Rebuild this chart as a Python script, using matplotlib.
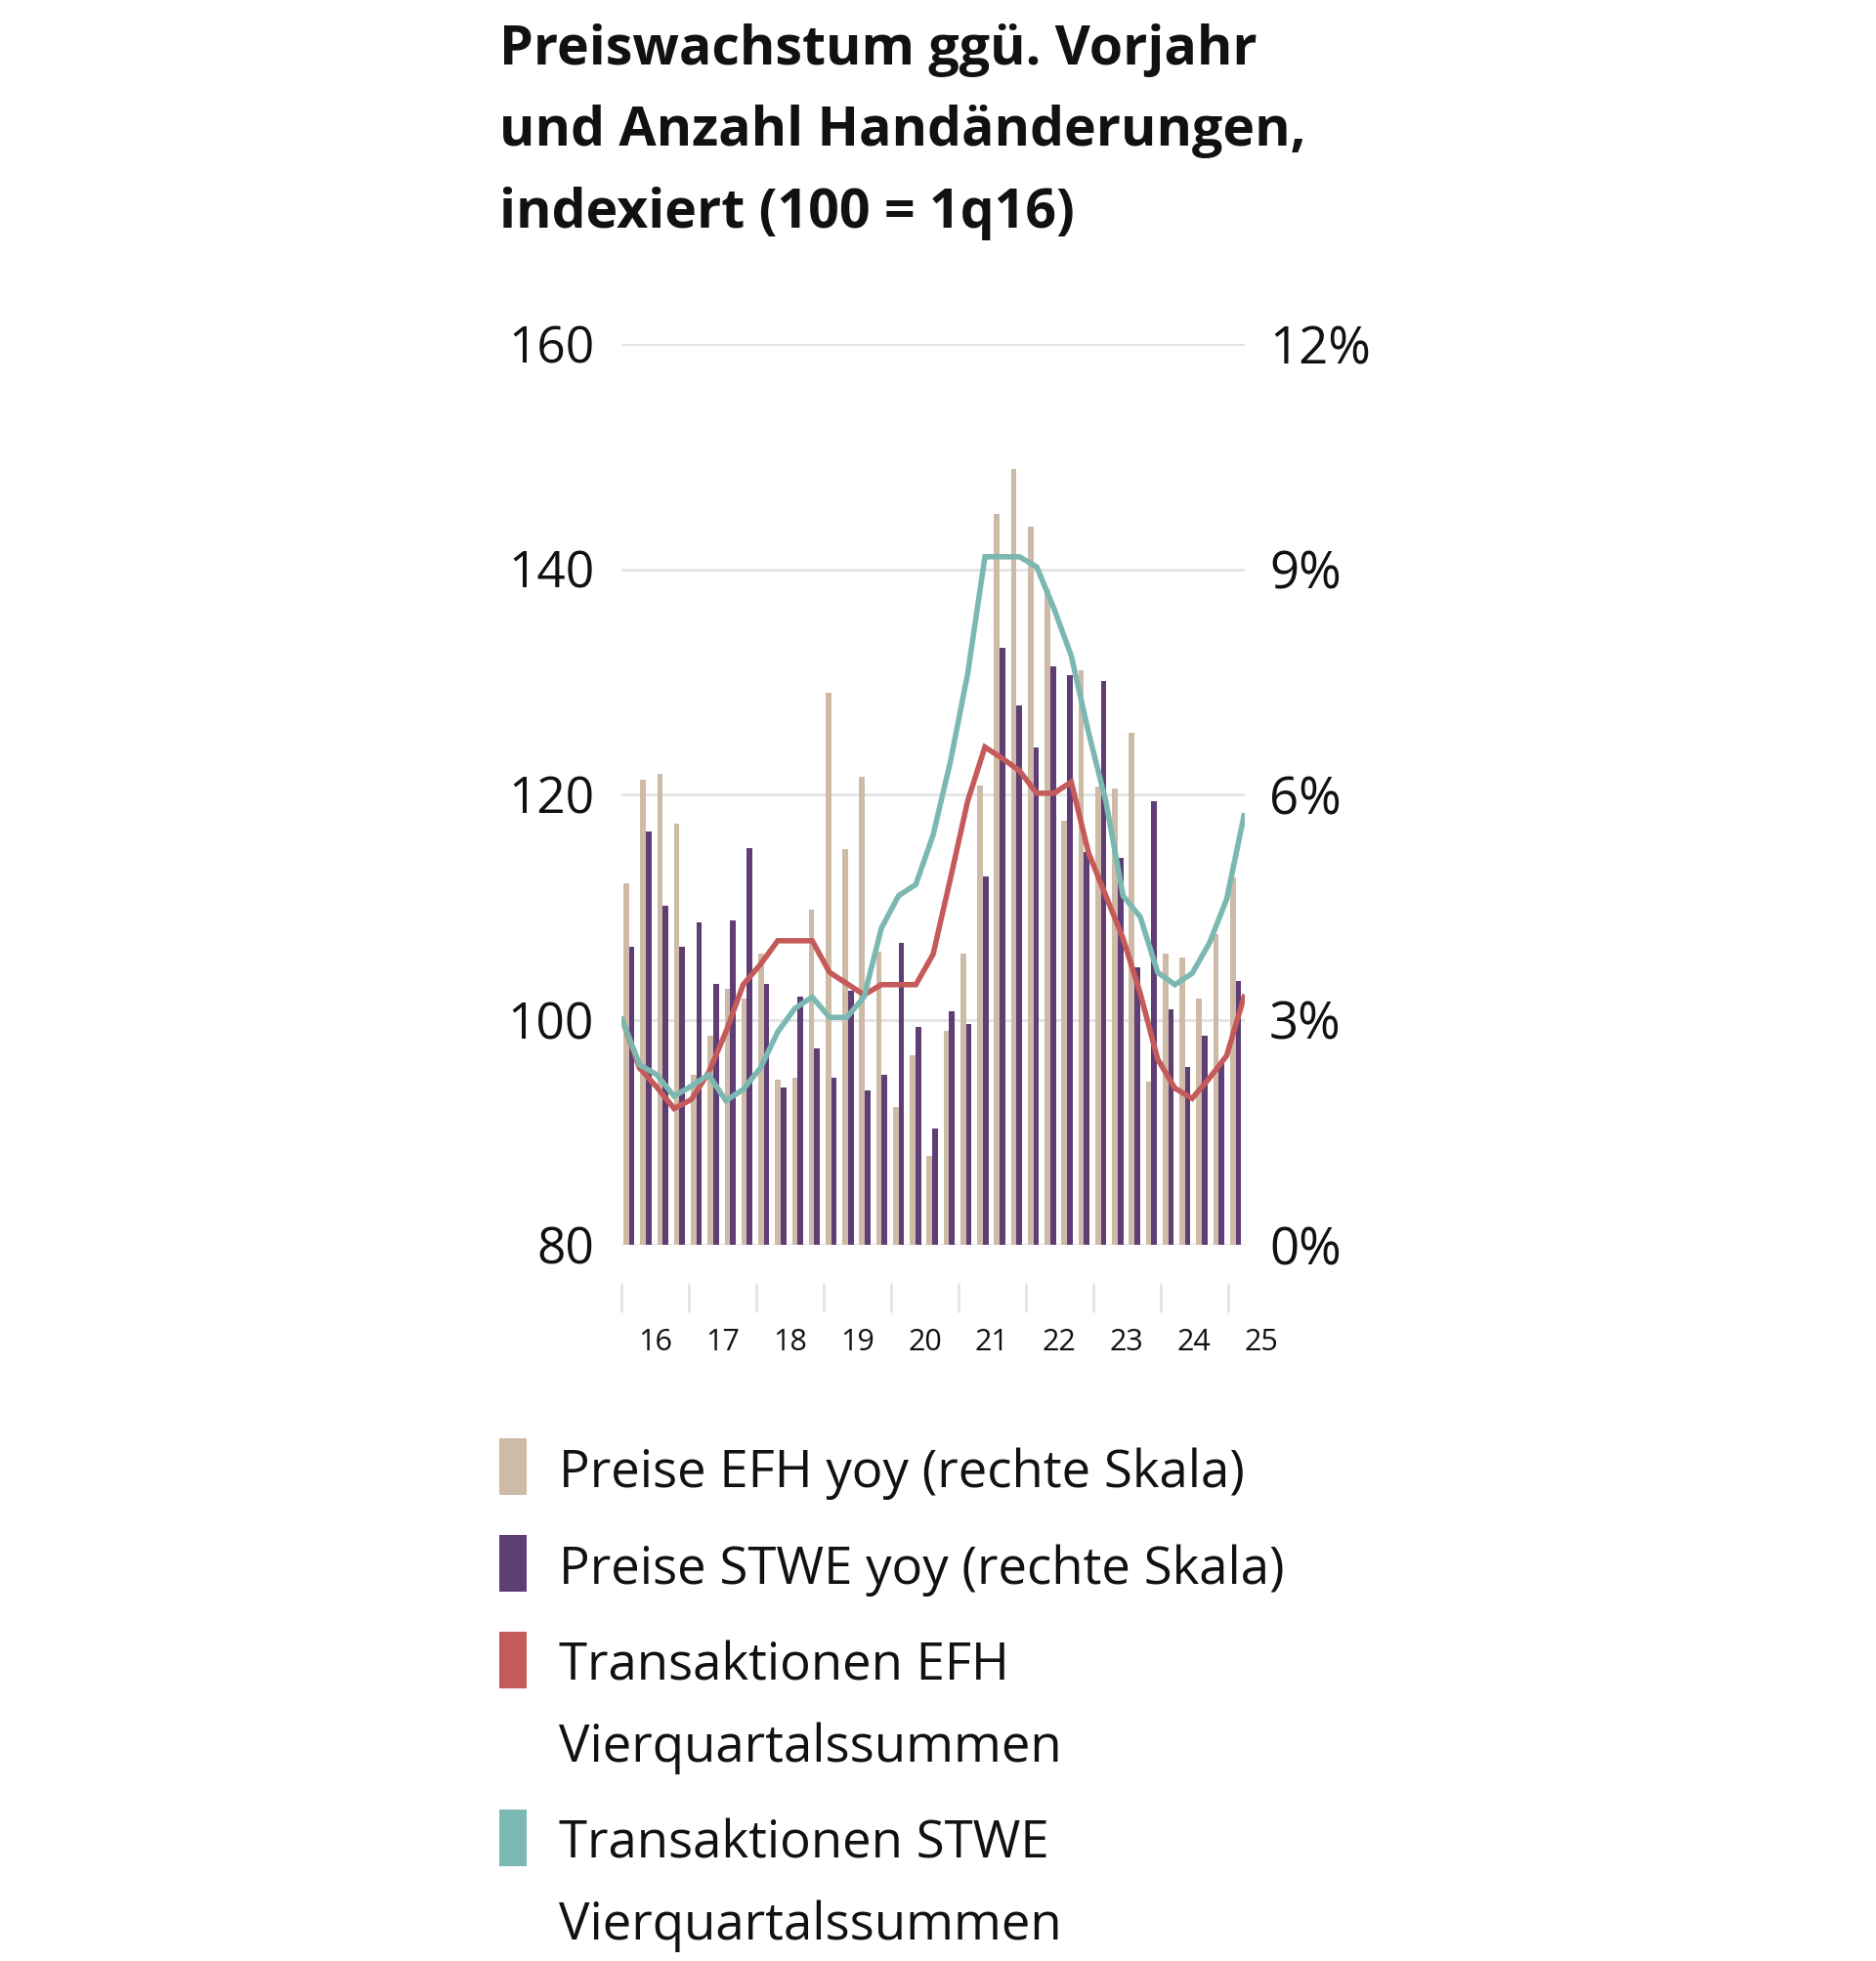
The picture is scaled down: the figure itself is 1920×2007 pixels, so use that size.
import numpy as np
import matplotlib
matplotlib.use("Agg")
from matplotlib import pyplot as plt
from matplotlib.patches import Rectangle

plt.rcParams['font.family'] = ['Open Sans', 'DejaVu Sans']

# Daten (Quartale 1q16 .. 1q25)
years = ["16", "17", "18", "19", "20", "21", "22", "23", "24", "25"]

# Preiswachstum yoy in % (rechte Skala)
preise_efh = [4.82, 6.20, 6.27, 5.61, 2.26, 2.79, 3.41, 3.28, 3.88, 2.20,
              2.23, 4.47, 7.36, 5.27, 6.23, 3.90, 1.84, 2.53, 1.19, 2.85,
              3.88, 6.12, 9.74, 10.33, 9.57, 8.73, 5.65, 7.65, 6.10, 6.08,
              6.82, 2.17, 3.88, 3.82, 3.28, 4.14, 4.90]
preise_stwe = [3.97, 5.50, 4.52, 3.97, 4.29, 3.47, 4.32, 5.29, 3.47, 2.10,
               3.31, 2.61, 2.22, 3.38, 2.05, 2.26, 4.02, 2.90, 1.55, 3.11,
               2.94, 4.91, 7.95, 7.18, 6.63, 7.71, 7.59, 5.23, 7.51, 5.15,
               3.70, 5.91, 3.14, 2.37, 2.79, 2.44, 3.52]

# Transaktionen, Vierquartalssummen, indexiert (100 = 1q16)
trans_efh = [100.0, 95.7, 94.0, 92.1, 92.9, 95.3, 98.9, 103.1, 104.9, 107.0,
             107.0, 107.0, 104.2, 103.2, 102.2, 103.1, 103.1, 103.1, 105.8, 112.5,
             119.4, 124.2, 123.2, 122.1, 120.1, 120.1, 121.1, 114.8, 111.0, 107.2,
             102.3, 96.5, 93.9, 93.0, 94.8, 96.8, 102.0]
trans_stwe = [100.0, 96.0, 95.1, 93.2, 94.1, 95.1, 92.8, 93.8, 95.7, 98.9,
              101.0, 102.0, 100.2, 100.2, 102.0, 108.1, 111.0, 112.0, 116.4, 122.9,
              130.7, 141.1, 141.1, 141.1, 140.2, 136.5, 132.3, 125.5, 119.4, 111.0,
              109.1, 104.2, 103.1, 104.1, 106.8, 110.7, 118.1]

c_beige = "#CDBBA8"
c_purple = "#5E3E74"
c_red = "#C55A5A"
c_teal = "#7BB8B1"
c_grid = "#E3E3E3"
c_text = "#111111"

W, H = 1920, 2007
fig = plt.figure(figsize=(W / 100, H / 100), dpi=100)


def fx(x):
    return x / W


def fy(y):
    return 1 - y / H


ax = fig.add_axes([fx(636), fy(1274), 638 / W, 922 / H])
ax2 = ax.twinx()
ax.set_zorder(ax2.get_zorder() + 1)
ax.patch.set_visible(False)

n = len(preise_efh)
idx = np.arange(n)

# Balken (rechte Skala)
ax2.bar(idx - 0.215, preise_efh, width=0.33, color=c_beige, linewidth=0)
ax2.bar(idx + 0.115, preise_stwe, width=0.33, color=c_purple, linewidth=0)

# Linien (linke Skala)
x_line = np.linspace(-0.45, 36.45, n)
ax.plot(x_line, trans_efh, color=c_red, lw=4.0, solid_joinstyle="miter")
ax.plot(x_line, trans_stwe, color=c_teal, lw=4.0, solid_joinstyle="miter")

ax.set_xlim(-0.5, n - 0.5)
ax.set_ylim(80, 160)
ax2.set_ylim(0, 12)
ax.set_yticks([80, 100, 120, 140, 160])
ax2.set_yticks([0, 3, 6, 9, 12])
ax2.set_yticklabels(["0%", "3%", "6%", "9%", "12%"])
ax.set_xticks([])

ax2.grid(True, axis="y", color=c_grid, lw=2)
ax2.set_axisbelow(True)

for a in (ax, ax2):
    for s in a.spines.values():
        s.set_visible(False)
ax.tick_params(axis="y", length=0, pad=20, labelsize=37, labelcolor=c_text)
ax2.tick_params(axis="y", length=0, pad=18, labelsize=38, labelcolor=c_text)

# Jahresmarken und Beschriftung
tick_x = np.arange(len(years)) * 4 - 0.5
ax.vlines(tick_x, -0.042, -0.075, transform=ax.get_xaxis_transform(),
          color=c_grid, lw=2, clip_on=False)
for tx, yr in zip(tick_x, years):
    ax.text(tx + 2, -0.109, yr, transform=ax.get_xaxis_transform(),
            ha="center", va="center", fontsize=22, color=c_text, clip_on=False)

# Titel
title_lines = ["Preiswachstum ggü. Vorjahr",
               "und Anzahl Handänderungen,",
               "indexiert (100 = 1q16)"]
for k, line in enumerate(title_lines):
    fig.text(fx(511), fy(66 + 83.5 * k), line, fontsize=40, fontweight="bold",
             color=c_text, va="baseline", ha="left")

# Legende
legend_items = [(["Preise EFH yoy (rechte Skala)"], c_beige),
                (["Preise STWE yoy (rechte Skala)"], c_purple),
                (["Transaktionen EFH", "Vierquartalssummen"], c_red),
                (["Transaktionen STWE", "Vierquartalssummen"], c_teal)]
y0 = 1472
for lines, col in legend_items:
    fig.patches.append(Rectangle((fx(511), fy(y0 + 58)), 28 / W, 58 / H,
                                 transform=fig.transFigure, color=col, lw=0))
    for k, line in enumerate(lines):
        fig.text(fx(572), fy(y0 + 50 + 83 * k), line, fontsize=38,
                 color=c_text, va="baseline", ha="left")
    y0 += 99 + 83 * (len(lines) - 1)

fig.savefig("out.png", dpi=100, facecolor="white")
